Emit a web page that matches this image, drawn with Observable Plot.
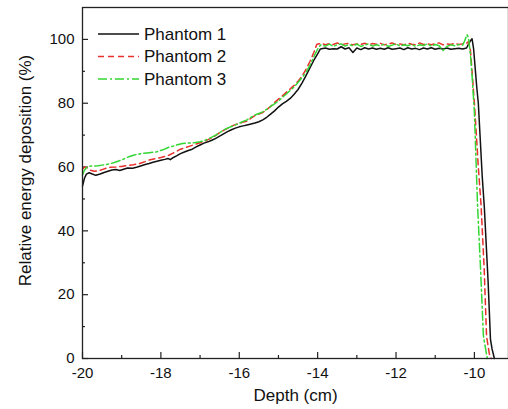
<!DOCTYPE html>
<html>
<head>
<meta charset="utf-8">
<script src="https://cdn.jsdelivr.net/npm/d3@7"></script>
<script src="https://cdn.jsdelivr.net/npm/@observablehq/plot@0.6"></script>
<style>
  html, body { margin: 0; padding: 0; background: #fff; }
</style>
</head>
<body>
<div id="chart"></div>
<script>
const seriesNames = ["Phantom 1", "Phantom 2", "Phantom 3"];
const seriesColors = ["#111111", "#e8302c", "#33d633"];
const seriesDashes = [null, "6,4", "9,3,2,3"];

const xTicks = [-20, -18, -16, -14, -12, -10];
const xMinorTicks = [-19, -17, -15, -13, -11];
const yTicks = [0, 20, 40, 60, 80, 100];
const yMinorTicks = [10, 30, 50, 70, 90];

const depth1 = [-20.0,-19.95,-19.9,-19.83,-19.75,-19.66,-19.55,-19.45,-19.35,-19.25,-19.15,-19.05,-18.95,-18.85,-18.72,-18.6,-18.5,-18.4,-18.3,-18.2,-18.1,-18.0,-17.9,-17.82,-17.76,-17.68,-17.6,-17.5,-17.4,-17.3,-17.2,-17.1,-17.0,-16.9,-16.8,-16.7,-16.6,-16.5,-16.4,-16.3,-16.2,-16.1,-16.0,-15.9,-15.8,-15.7,-15.6,-15.5,-15.4,-15.3,-15.2,-15.1,-15.0,-14.9,-14.8,-14.7,-14.6,-14.5,-14.4,-14.3,-14.2,-14.1,-14.0,-13.93,
  -13.8,-13.7,-13.6,-13.5,-13.4,-13.3,-13.2,-13.1,-13.0,-12.9,-12.8,-12.7,-12.6,-12.5,-12.4,-12.3,-12.2,-12.1,-12.0,-11.9,-11.8,-11.7,-11.6,-11.5,-11.4,-11.3,-11.2,-11.1,-11.0,-10.9,-10.8,-10.7,-10.6,-10.5,-10.4,-10.3,-10.2,-10.15,-10.1,-10.06,-10.02,-9.98,-9.94,-9.9,-9.8,-9.745,-9.65,-9.59,-9.55,-9.49];
const dose1 = [54.0,56.5,57.8,58.2,57.8,57.4,57.8,58.3,58.7,59.1,59.2,58.9,59.3,59.7,59.6,60.0,60.4,60.8,61.1,61.5,61.8,62.1,62.4,62.7,62.3,63.0,63.5,64.2,64.7,65.2,65.6,66.3,66.9,67.5,67.9,68.4,69.0,69.7,70.4,71.1,71.7,72.2,72.6,72.9,73.2,73.5,73.8,74.2,74.8,75.6,76.6,77.6,78.8,79.8,80.6,81.5,82.8,84.3,86.3,88.6,91.0,93.4,95.5,97.0,
  97.3,96.9,97.1,97.0,97.7,97.0,97.4,95.9,97.3,96.8,97.4,97.0,97.3,96.9,97.2,96.9,97.4,96.9,97.1,97.3,96.8,97.4,97.0,97.2,96.8,97.3,97.0,97.4,96.9,97.2,97.0,97.3,96.9,97.1,97.2,97.0,97.3,98.5,99.6,100.2,97.0,91.0,85.0,80.0,57.0,47.0,24.0,6.0,3.0,0.0];

const depth2 = [-20.0,-19.95,-19.88,-19.8,-19.7,-19.6,-19.5,-19.4,-19.3,-19.15,-19.0,-18.85,-18.7,-18.55,-18.4,-18.3,-18.15,-18.0,-17.9,-17.8,-17.7,-17.6,-17.5,-17.4,-17.3,-17.2,-17.1,-17.0,-16.9,-16.8,-16.7,-16.6,-16.5,-16.4,-16.3,-16.2,-16.1,-16.0,-15.9,-15.8,-15.7,-15.6,-15.5,-15.4,-15.3,-15.2,-15.1,-15.0,-14.9,-14.8,-14.7,-14.6,-14.5,-14.4,-14.3,-14.2,-14.1,-14.02,
  -13.9,-13.8,-13.7,-13.6,-13.5,-13.4,-13.3,-13.2,-13.1,-13.0,-12.9,-12.8,-12.7,-12.6,-12.5,-12.4,-12.3,-12.2,-12.1,-12.0,-11.9,-11.8,-11.7,-11.6,-11.5,-11.4,-11.3,-11.2,-11.1,-11.0,-10.9,-10.8,-10.7,-10.6,-10.5,-10.4,-10.3,-10.2,-10.15,-10.1,-10.06,-10.0,-9.9,-9.83,-9.75,-9.69,-9.62,-9.57];
const dose2 = [59.3,60.0,59.8,59.0,58.7,58.8,59.2,59.6,59.9,60.0,60.2,60.5,60.7,61.1,61.7,62.2,62.6,63.0,63.3,63.7,64.3,64.9,65.6,66.0,66.4,66.8,67.2,67.6,68.0,68.6,69.1,69.9,70.8,71.5,72.1,72.8,73.3,73.7,74.1,74.4,75.3,76.1,76.6,77.1,78.0,79.0,80.2,81.3,82.3,83.4,84.5,85.6,86.9,88.5,90.5,93.0,95.8,98.5,
  98.8,98.3,98.7,98.4,98.9,98.3,98.6,98.8,98.3,98.6,98.4,98.8,98.3,98.7,98.5,98.8,98.3,98.6,98.9,98.4,98.6,98.3,98.8,98.5,98.3,98.9,98.4,98.6,98.3,98.7,98.9,98.3,98.6,98.4,98.8,98.4,98.6,98.8,99.3,96.5,90.0,80.0,60.0,48.0,28.0,7.0,1.5,0.0];

const depth3 = [-20.0,-19.95,-19.9,-19.8,-19.7,-19.6,-19.5,-19.4,-19.3,-19.15,-19.0,-18.9,-18.8,-18.7,-18.6,-18.5,-18.3,-18.1,-17.95,-17.8,-17.7,-17.6,-17.45,-17.3,-17.15,-17.0,-16.85,-16.7,-16.6,-16.5,-16.4,-16.3,-16.2,-16.1,-16.0,-15.9,-15.8,-15.7,-15.6,-15.5,-15.4,-15.3,-15.2,-15.1,-15.0,-14.9,-14.8,-14.7,-14.6,-14.5,-14.4,-14.3,-14.2,-14.1,-14.0,-13.92,
  -13.8,-13.7,-13.6,-13.5,-13.4,-13.3,-13.2,-13.1,-13.0,-12.9,-12.8,-12.7,-12.6,-12.5,-12.4,-12.3,-12.2,-12.1,-12.0,-11.9,-11.8,-11.7,-11.6,-11.5,-11.4,-11.3,-11.2,-11.1,-11.0,-10.9,-10.8,-10.7,-10.6,-10.5,-10.4,-10.3,-10.25,-10.19,-10.15,-10.1,-10.05,-10.0,-9.92,-9.85,-9.77,-9.7,-9.67];
const dose3 = [57.5,59.0,59.8,60.3,60.3,60.4,60.6,60.8,61.0,61.6,62.2,62.8,63.3,63.7,64.0,64.2,64.5,64.8,65.4,66.2,66.5,66.9,67.4,67.5,67.6,67.9,68.5,69.4,70.0,70.8,71.6,72.2,72.7,73.2,73.7,74.3,74.8,75.6,76.3,76.8,77.3,78.1,79.0,79.8,80.7,81.8,82.9,84.0,85.1,86.5,88.0,89.6,91.8,94.5,97.0,98.3,
  97.9,98.5,97.8,98.3,98.6,97.9,98.4,98.0,98.5,97.8,98.2,98.6,97.9,98.3,98.0,98.5,97.8,98.2,98.6,97.9,98.3,98.0,98.5,97.8,98.3,98.1,98.6,97.9,98.4,98.0,96.5,97.8,98.3,98.0,98.4,98.2,99.5,101.5,100.5,95.0,87.0,77.0,48.0,30.0,7.0,2.0,0.0];

const depths = [depth1, depth2, depth3];
const doses = [dose1, dose2, dose3];

const table = seriesNames.flatMap((name, i) =>
  depths[i].map((d, j) => ({series: name, depth: d, dose: doses[i][j]})));

const fmt = d => String(d);
const font = "'Liberation Sans', Arial, sans-serif";

const W = 508, H = 409, ML = 82, MT = 7, MR = 0, MB = 51;
const plotW = W - ML - MR, plotH = H - MT - MB;

const lineMarks = seriesNames.map((name, i) =>
  Plot.line(table.filter(r => r.series === name), {
    x: "depth", y: "dose",
    stroke: seriesColors[i],
    strokeWidth: 1.5,
    strokeDasharray: seriesDashes[i] || undefined,
    curve: "linear"
  }));

const chart = Plot.plot({
  width: W,
  height: H,
  marginLeft: ML,
  marginTop: MT,
  marginRight: MR,
  marginBottom: MB,
  style: {fontFamily: font, fontSize: "15px", color: "#111", background: "#fff", overflow: "visible"},
  x: {domain: [-20, -9.13]},
  y: {domain: [0, 110]},
  marks: [
    // tick labels only
    Plot.axisX(xTicks, {tickSize: 0, tickPadding: 9, tickFormat: fmt, label: null, fontSize: 15}),
    Plot.axisY(yTicks, {tickSize: 0, tickPadding: 8, tickFormat: fmt, label: null, fontSize: 15}),
    // inward-pointing ticks
    Plot.ruleX(xTicks, {stroke: "#222", strokeWidth: 1.2, insetTop: plotH - 6}),
    Plot.ruleX(xMinorTicks, {stroke: "#222", strokeWidth: 1.2, insetTop: plotH - 3}),
    Plot.ruleY(yTicks, {stroke: "#222", strokeWidth: 1.2, insetRight: plotW - 6}),
    Plot.ruleY(yMinorTicks, {stroke: "#222", strokeWidth: 1.2, insetRight: plotW - 3}),
    ...lineMarks,
    Plot.frame({stroke: "#222", strokeWidth: 1.3}),
    Plot.text(["Depth (cm)"], {text: d => d, frameAnchor: "bottom", dy: 37, fontSize: 17, lineAnchor: "middle", textAnchor: "middle", fill: "#111"}),
    Plot.text(["Relative energy deposition (%)"], {text: d => d, frameAnchor: "left", rotate: -90, dx: -57, dy: -12.5, fontSize: 17, lineAnchor: "middle", textAnchor: "middle", fill: "#111"})
  ]
});

document.getElementById("chart").appendChild(chart);

// in-plot legend
const svg = d3.select(chart);
const leg = svg.append("g").attr("font-family", font).attr("font-size", 17).attr("text-anchor", "start");
seriesNames.forEach((name, i) => {
  const y = 34 + 22.5 * i;
  const ln = leg.append("line")
    .attr("x1", 98).attr("x2", 139).attr("y1", y).attr("y2", y)
    .attr("stroke", seriesColors[i]).attr("stroke-width", 1.5);
  if (seriesDashes[i]) ln.attr("stroke-dasharray", seriesDashes[i]);
  leg.append("text").attr("x", 144).attr("y", y).attr("dy", "0.35em")
    .attr("text-anchor", "start")
    .attr("fill", "#111").text(name);
});
</script>
</body>
</html>
